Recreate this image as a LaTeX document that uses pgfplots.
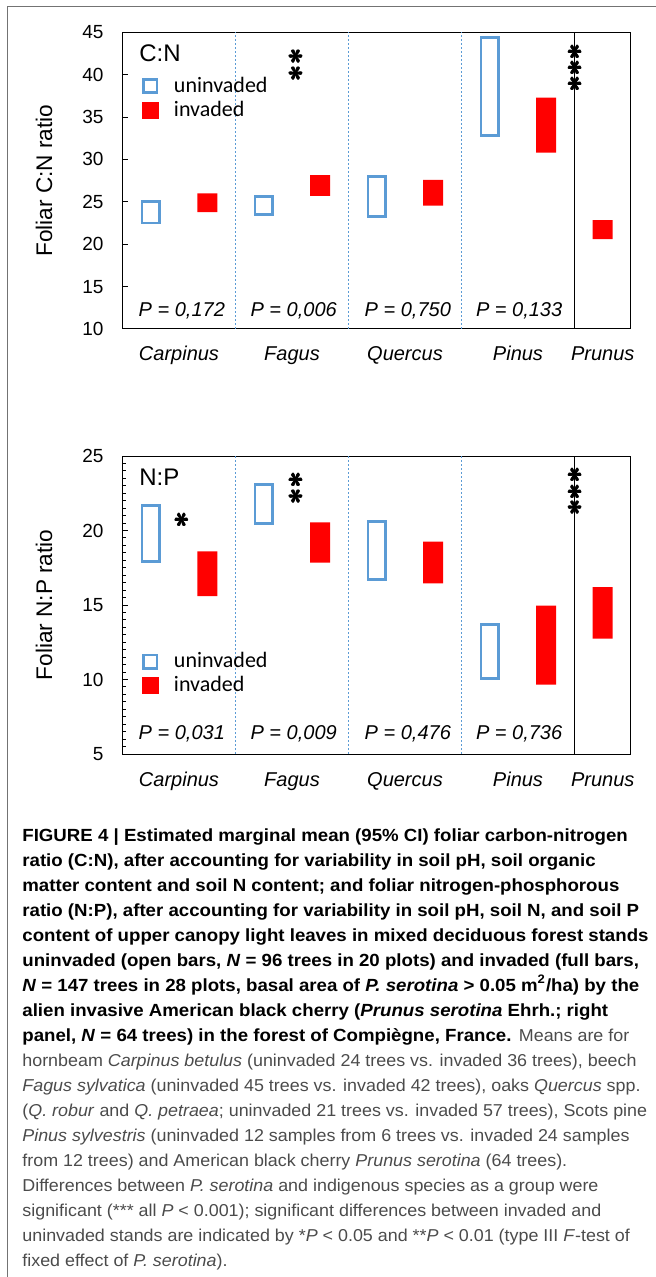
\documentclass[border=0pt]{standalone}
\usepackage{fontspec}
\setmainfont{Liberation Sans}
\newfontfamily\carlito{Carlito}
\newfontfamily\capB[FakeStretch=1.06]{Liberation Sans}
\newfontfamily\capL[FakeStretch=1.04]{Liberation Sans}
\usepackage{graphicx}
\usepackage{pgfplots}
\usepackage{pgfplotstable}
\pgfplotsset{compat=1.18}
\definecolor{uBlue}{RGB}{91,155,213}
\definecolor{capgray}{RGB}{75,75,75}

\pgfplotstableread{
x lo hi
1 22.5 25.05
3 23.5 25.6
5 23.3 27.95
7 32.8 44.4
}\cnU
\pgfplotstableread{
x lo hi
2 23.8 26.0
4 25.7 28.15
6 24.55 27.6
8 30.8 37.3
9 20.6 22.85
}\cnI
\pgfplotstableread{
x lo hi
1 17.9 21.7
3 20.45 23.1
5 16.7 20.6
7 10.05 13.7
}\npU
\pgfplotstableread{
x lo hi
2 15.6 18.6
4 17.85 20.55
6 16.45 19.25
8 9.65 14.95
9 12.75 16.2
}\npI

\newcommand\capBf{\capB\fontsize{8.8}{12}\selectfont\bfseries\color{black}}
\newcommand\capLf{\capL\fontsize{8.6}{12}\selectfont\color{capgray}}
\newcommand\capline[2]{\node[anchor=base west, inner sep=0pt] at (11pt,{-420.5pt-(#1-1)*12.5pt}) {#2};}
\newcommand\sstar{\rotatebox[origin=c]{90}{\fontsize{14.5}{14.5}\selectfont\boldmath$\ast$}}
\newcommand\starat[2]{%
  \node[inner sep=0pt, xshift=0.3pt] at (axis cs:#1,#2) {\sstar};
  \node[inner sep=0pt, xshift=-0.3pt] at (axis cs:#1,#2) {\sstar};
  \node[inner sep=0pt, yshift=0.3pt] at (axis cs:#1,#2) {\sstar};
  \node[inner sep=0pt, yshift=-0.3pt] at (axis cs:#1,#2) {\sstar};}

\tikzset{sepline/.style={uBlue, line width=0.5pt, dash pattern=on 1pt off 1pt}}
\pgfplotsset{
  panel/.style={
    scale only axis, width=254.25pt,
    xmin=0.5, xmax=9.5,
    axis line style={line width=0.5pt, black},
    tick align=inside, ytick pos=left,
    major tick length=2.8pt, minor tick length=1.7pt,
    tick style={line width=0.5pt, black},
    xtick={1.5,3.5,5.5,7.5,9},
    xticklabels={\textit{Carpinus},\textit{Fagus},\textit{Quercus},\textit{Pinus},\textit{Prunus}},
    xtick style={draw=none},
    xticklabel style={anchor=base, inner sep=0pt, yshift=-16pt, font=\fontsize{10}{12}\selectfont},
    yticklabel style={anchor=east, inner sep=0pt, xshift=-9.35pt, font=\fontsize{9.5}{11}\selectfont},
    /pgf/number format/assume math mode=true,
    every axis y label/.style={at={([xshift=-39.25pt]axis description cs:0,0.5)}, rotate=90, anchor=center, inner sep=0pt, font=\fontsize{11.3}{13}\selectfont},
    ybar stacked,
  },
  mainleg/.style={
    legend style={draw=none, fill=none, inner sep=0pt, outer sep=0pt,
      at={(rel axis cs:0.0383,#1)}, anchor=north west,
      font=\carlito\fontsize{11}{12}\selectfont, row sep=2pt,
      nodes={inner sep=0pt, text height=8pt, text depth=2pt}},
    legend cell align=left,
  },
}
\newcommand\legimgs{%
  \addlegendimage{legend image code/.code={\draw[uBlue, line width=1.35pt, fill=white] (0.675pt,-3.325pt) rectangle (7.325pt,3.325pt); \path[draw=none, fill=none] (0pt,0pt) (15.8pt,0pt);}}
  \addlegendimage{legend image code/.code={\fill[red] (0pt,-4pt) rectangle (8pt,4pt); \path[draw=none, fill=none] (0pt,0pt) (15.8pt,0pt);}}
}

\begin{document}
\begin{tikzpicture}
\path[use as bounding box] (0pt,0pt) rectangle (327.5pt,-638.5pt);
\draw[black!55, line width=0.6pt] (3.65pt,-640pt) -- (3.65pt,-3.35pt) -- (330pt,-3.35pt);

% ---------- top panel: C:N ----------
\begin{axis}[panel, mainleg=0.8527, at={(61.25pt,-164.5pt)}, anchor=south west,
  height=148.35pt, ymin=10, ymax=45, ytick={10,15,...,45},
  ylabel={Foliar C:N ratio}, bar width=0.31]
\legimgs
\draw[sepline] (axis cs:2.5,10) -- (axis cs:2.5,45);
\draw[sepline] (axis cs:4.5,10) -- (axis cs:4.5,45);
\draw[sepline] (axis cs:6.5,10) -- (axis cs:6.5,45);
\draw[black, line width=0.5pt] (axis cs:8.5,10) -- (axis cs:8.5,45);
\addplot[draw=none, fill=none, forget plot] table[x=x, y=lo] {\cnU};
\addplot[draw=uBlue, line width=1.35pt, fill=white, forget plot] table[x=x, y expr=\thisrow{hi}-\thisrow{lo}] {\cnU};
\legend{uninvaded, invaded}
\node[anchor=west, inner sep=0pt, font=\fontsize{12}{14}\selectfont] at (axis cs:0.79,42.5) {C:N};
\node[anchor=base, inner sep=0pt, font=\itshape\fontsize{10}{12}\selectfont] at (axis cs:1.55,11.45) {P = 0,172};
\node[anchor=base, inner sep=0pt, font=\itshape\fontsize{10}{12}\selectfont] at (axis cs:3.53,11.45) {P = 0,006};
\node[anchor=base, inner sep=0pt, font=\itshape\fontsize{10}{12}\selectfont] at (axis cs:5.55,11.45) {P = 0,750};
\node[anchor=base, inner sep=0pt, font=\itshape\fontsize{10}{12}\selectfont] at (axis cs:7.52,11.45) {P = 0,133};
\starat{3.57}{42.12}
\starat{3.57}{40.16}
\starat{8.51}{42.7}
\starat{8.51}{40.82}
\starat{8.51}{38.9}
\end{axis}
\begin{axis}[panel, at={(61.25pt,-164.5pt)}, anchor=south west,
  height=148.35pt, ymin=10, ymax=45, hide axis, bar width=0.354]
\addplot[draw=none, fill=none] table[x=x, y=lo] {\cnI};
\addplot[draw=none, fill=red] table[x=x, y expr=\thisrow{hi}-\thisrow{lo}] {\cnI};
\end{axis}

% ---------- bottom panel: N:P ----------
\begin{axis}[panel, mainleg=0.343, at={(61.25pt,-377pt)}, anchor=south west,
  height=149pt, ymin=5, ymax=25, ytick={5,10,...,25}, minor y tick num=9,
  ylabel={Foliar N:P ratio}, bar width=0.31]
\legimgs
\draw[sepline] (axis cs:2.5,5) -- (axis cs:2.5,25);
\draw[sepline] (axis cs:4.5,5) -- (axis cs:4.5,25);
\draw[sepline] (axis cs:6.5,5) -- (axis cs:6.5,25);
\draw[black, line width=0.5pt] (axis cs:8.5,5) -- (axis cs:8.5,25);
\addplot[draw=none, fill=none, forget plot] table[x=x, y=lo] {\npU};
\addplot[draw=uBlue, line width=1.35pt, fill=white, forget plot] table[x=x, y expr=\thisrow{hi}-\thisrow{lo}] {\npU};
\legend{uninvaded, invaded}
\node[anchor=west, inner sep=0pt, font=\fontsize{12}{14}\selectfont] at (axis cs:0.79,23.55) {N:P};
\node[anchor=base, inner sep=0pt, font=\itshape\fontsize{10}{12}\selectfont] at (axis cs:1.55,5.94) {P = 0,031};
\node[anchor=base, inner sep=0pt, font=\itshape\fontsize{10}{12}\selectfont] at (axis cs:3.53,5.94) {P = 0,009};
\node[anchor=base, inner sep=0pt, font=\itshape\fontsize{10}{12}\selectfont] at (axis cs:5.55,5.94) {P = 0,476};
\node[anchor=base, inner sep=0pt, font=\itshape\fontsize{10}{12}\selectfont] at (axis cs:7.52,5.94) {P = 0,736};
\starat{1.55}{20.7}
\starat{3.57}{23.4}
\starat{3.57}{22.27}
\starat{8.51}{23.72}
\starat{8.51}{22.6}
\starat{8.51}{21.53}
\end{axis}
\begin{axis}[panel, at={(61.25pt,-377pt)}, anchor=south west,
  height=149pt, ymin=5, ymax=25, hide axis, bar width=0.354]
\addplot[draw=none, fill=none] table[x=x, y=lo] {\npI};
\addplot[draw=none, fill=red] table[x=x, y expr=\thisrow{hi}-\thisrow{lo}] {\npI};
\end{axis}

% ---------- caption ----------
\capline{1}{{\capBf FIGURE 4 | Estimated marginal mean (95\% CI) foliar carbon-nitrogen}}
\capline{2}{{\capBf ratio (C:N), after accounting for variability in soil pH, soil organic}}
\capline{3}{{\capBf matter content and soil N content; and foliar nitrogen-phosphorous}}
\capline{4}{{\capBf ratio (N:P), after accounting for variability in soil pH, soil N, and soil P}}
\capline{5}{{\capBf content of upper canopy light leaves in mixed deciduous forest stands}}
\capline{6}{{\capBf uninvaded (open bars, \textit{N} = 96 trees in 20 plots) and invaded (full bars,}}
\capline{7}{{\capBf \textit{N} = 147 trees in 28 plots, basal area of \textit{P. serotina} > 0.05 m\textsuperscript{2}/ha) by the}}
\capline{8}{{\capBf alien invasive American black cherry (\textit{Prunus serotina} Ehrh.; right}}
\capline{9}{{\capBf panel, \textit{N} = 64 trees) in the forest of Compiègne, France.} {\capLf Means are for}}
\capline{10}{{\capLf hornbeam \textit{Carpinus betulus} (uninvaded 24 trees vs. invaded 36 trees), beech}}
\capline{11}{{\capLf \textit{Fagus sylvatica} (uninvaded 45 trees vs. invaded 42 trees), oaks \textit{Quercus} spp.}}
\capline{12}{{\capLf (\textit{Q. robur} and \textit{Q. petraea}; uninvaded 21 trees vs. invaded 57 trees), Scots pine}}
\capline{13}{{\capLf \textit{Pinus sylvestris} (uninvaded 12 samples from 6 trees vs. invaded 24 samples}}
\capline{14}{{\capLf from 12 trees) and American black cherry \textit{Prunus serotina} (64 trees).}}
\capline{15}{{\capLf Differences between \textit{P. serotina} and indigenous species as a group were}}
\capline{16}{{\capLf significant (*** all \textit{P} < 0.001); significant differences between invaded and}}
\capline{17}{{\capLf uninvaded stands are indicated by *\textit{P} < 0.05 and **\textit{P} < 0.01 (type III \textit{F}-test of}}
\capline{18}{{\capLf fixed effect of \textit{P. serotina}).}}
\end{tikzpicture}
\end{document}
